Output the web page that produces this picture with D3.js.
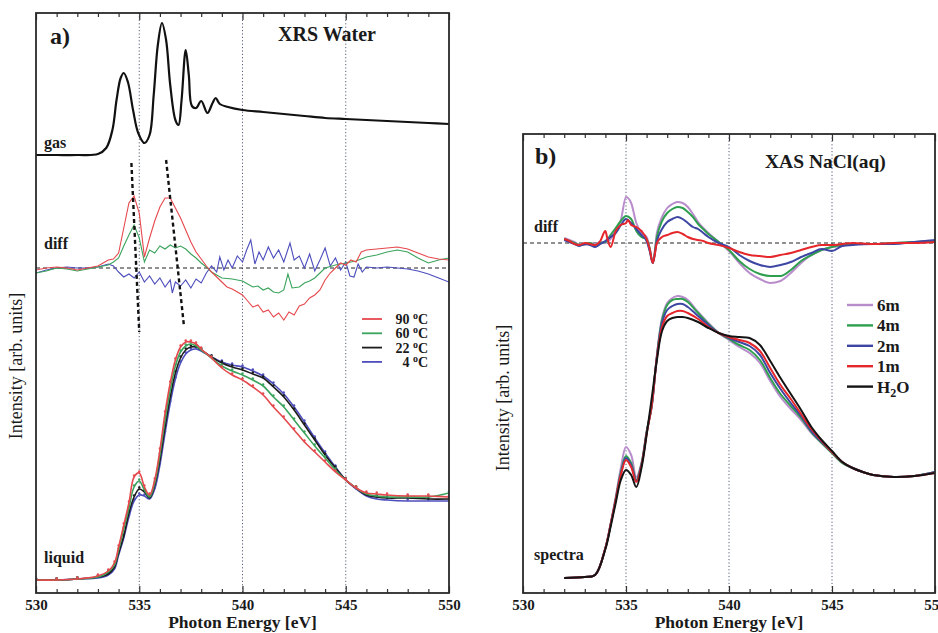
<!DOCTYPE html>
<html>
<head>
<meta charset="utf-8">
<script src="https://cdn.jsdelivr.net/npm/d3@7"></script>
<style>
  body { margin: 0; background: #fff; }
  svg text { font-family: "Liberation Serif", "DejaVu Serif", serif; fill: #1a1a1a; }
</style>
</head>
<body>
<div id="chart"></div>
<script>
// ---- panel a) XRS water : gas spectrum [eV, arb] ----
const gasA = [[530,438],[531,438],[532,438],[533,439],[533.4,445],[533.7,463],[533.9,493],[534.1,515],[534.25,520],
  [534.45,511],[534.7,483],[534.95,460],[535.25,450],[535.5,458],[535.7,498],[535.9,548],[536.1,570],[536.3,553],
  [536.5,508],[536.75,473],[536.9,468],[537.05,493],[537.25,543],[537.4,518],[537.55,487],[537.75,485],[538,492],
  [538.3,480],[538.55,490],[538.7,495],[538.9,489],[539.3,486],[540,483],[541,481],[542,479],[543,477],[544,475],
  [545,474],[546,473],[547,472],[548,471],[549,470],[550,469]];

// diff curves (relative to 22 C)
const diffA90 = [[530,-2],[530.5,0],[531,1],[531.5,0],[532,-2],[532.5,0],[533,2],[533.25,5],[533.5,8],[533.75,9],[534,15],
  [534.25,40],[534.5,65],[534.75,72],[535,55],[535.25,11],[535.5,30],[535.75,47],[536,61],[536.25,70],[536.5,70],
  [536.75,60],[537,50],[537.25,38],[537.5,26],[537.75,16],[538,9],[538.25,2],[538.5,-4],[538.75,-9],[539,-14],
  [539.25,-19],[539.5,-21],[539.75,-24],[540,-27],[540.25,-33],[540.5,-39],[540.75,-37],[541,-44],[541.25,-42],
  [541.5,-49],[541.75,-45],[542,-52],[542.25,-44],[542.5,-47],[542.75,-38],[543,-36],[543.25,-30],[543.5,-27],
  [543.75,-22],[544,-12],[544.25,-5],[544.5,0],[544.75,5],[545,3],[545.25,8],[545.5,6],[545.75,16],[546,18],
  [546.5,19],[547,20],[547.5,21],[548,19],[548.5,15],[549,11],[549.5,9],[550,8]];
const diffA60 = [[530,-5],[530.5,-3],[531,0],[531.5,-1],[532,-3],[532.5,-1],[533,1],[533.5,3],[533.75,6],[534,10],
  [534.25,22],[534.5,33],[534.75,43],[535,30],[535.25,6],[535.5,18],[535.75,15],[536,22],[536.25,19],[536.5,23],
  [536.75,20],[537,22],[537.25,19],[537.5,14],[537.75,10],[538,5],[538.25,1],[538.5,-4],[538.75,-7],[539,-10],
  [539.5,-11],[540,-13],[540.25,-16],[540.5,-19],[540.75,-18],[541,-22],[541.25,-20],[541.5,-24],[541.75,-25],
  [542,-22],[542.2,-6],[542.4,-20],[542.75,-19],[543,-15],[543.25,-13],[543.5,-10],[543.75,-5],[544,0],[544.5,3],
  [545,5],[545.5,7],[546,11],[546.5,13],[547,16],[547.5,18],[548,16],[548.5,10],[549,5],[549.5,8],[550,10]];
const diffA4 = [[530,-5],[530.5,-2],[531,0],[531.5,1],[532,0],[532.5,0],[533,1],[533.5,4],[533.75,2],[534,-4],
  [534.25,-9],[534.5,-6],[534.75,-10],[535,-4],[535.25,-14],[535.5,-8],[535.75,-16],[536,-10],[536.25,-19],
  [536.5,-12],[536.6,-25],[536.75,-14],[537,-18],[537.25,-12],[537.5,-20],[537.75,-11],[538,-15],[538.25,-5],
  [538.5,2],[538.75,-4],[538.9,11],[539.1,-2],[539.3,8],[539.5,0],[539.75,12],[540,6],[540.2,18],[540.4,28],
  [540.6,4],[540.8,16],[541,8],[541.25,21],[541.5,10],[541.75,18],[542,6],[542.3,25],[542.5,8],[542.75,12],
  [543,0],[543.25,14],[543.5,-3],[543.75,8],[544,20],[544.25,2],[544.5,10],[544.75,-2],[545,6],[545.2,-8],
  [545.4,-9],[545.6,4],[545.8,-4],[546,1],[546.5,0],[547,1],[547.5,0],[548,-1],[548.5,-3],[549,-6],[549.5,-10],[550,-14]];

// liquid spectra
const energyA = [530,531,532,533,533.5,533.8,534,534.25,534.5,534.75,535,535.25,535.5,535.75,536,536.25,536.5,536.75,
  537,537.25,537.5,537.75,538,538.5,539,539.5,540,540.5,541,541.5,542,542.5,543,543.5,544,544.5,545,545.5,546,
  546.5,547,548,549,550];
const liqA90 = [13,13,14,17,22,30,46,68,90,116,120,106,98,113,143,180,210,233,246,251,251,249,244,235,225,218,213,
  206,198,186,175,163,151,141,131,121,113,105,100,99,98,97,97,96];
const liqA60 = [13,13,14,16,21,28,43,64,85,106,112,103,96,110,138,173,203,227,241,247,249,247,243,235,227,222,218,
  213,207,196,186,173,160,147,135,123,113,105,99,97,96,96,96,100];
const liqA22 = [13,13,14,16,19,26,40,57,80,96,104,101,95,108,133,166,196,220,235,243,246,246,243,236,230,226,223,
  219,215,206,196,183,168,153,138,125,113,105,98,96,95,95,94,94];
const liqA4 = [13,13,14,15,18,24,38,55,76,92,98,97,94,104,128,160,190,214,230,239,243,244,242,236,231,228,226,222,
  217,209,199,186,171,155,140,126,113,104,97,94,93,92,92,92];

// guide lines through the diff peaks
const guideA = [[[534.62,430],[535.0,261]], [[536.3,433],[537.16,268]]];

const tempLabels = ['90', '60', '22', '4'];
const tempColors = ['#e5484d', '#3aa35c', '#1c1c1c', '#4d4dbd'];

// ---- panel b) XAS NaCl(aq) ----
const diffB6 = [[532,5],[532.25,3],[532.5,1],[532.75,-2],[533,-2],[533.25,0],[533.5,-1],[533.75,1],[534,0],[534.25,4],
  [534.5,13],[534.75,23],[535,46],[535.25,40],[535.5,20],[535.75,10],[536,6],[536.15,-5],[536.3,-20],[536.5,10],
  [536.75,26],[537,35],[537.25,39],[537.5,41],[537.75,40],[538,36],[538.25,29],[538.5,21],[538.75,15],[539,10],
  [539.5,1],[540,-8],[540.5,-20],[541,-30],[541.5,-36],[542,-40],[542.5,-38],[543,-30],[543.5,-20],[544,-12],
  [544.5,-7],[545,-4],[545.5,-3],[546,-1],[547,-1],[548,0],[549,1],[550,2]];
const diffB4 = [[532,4],[532.25,2],[532.5,0],[532.75,-2],[533,-1],[533.25,0],[533.5,-2],[533.75,0],[534,1],[534.25,8],
  [534.5,15],[534.75,22],[535,27],[535.25,24],[535.5,12],[535.75,6],[536,4],[536.15,-6],[536.3,-20],[536.5,6],
  [536.75,22],[537,30],[537.25,34],[537.5,36],[537.75,35],[538,31],[538.25,26],[538.5,19],[538.75,14],[539,9],
  [539.5,1],[540,-7],[540.5,-18],[541,-26],[541.5,-31],[542,-33],[542.5,-33],[543,-27],[543.5,-18],[544,-12],
  [544.5,-7],[545,-4],[545.5,-2],[546,-1],[547,-1],[548,0],[549,1],[550,2]];
const diffB2 = [[532,3],[532.25,1],[532.5,-1],[532.75,-3],[533,-1],[533.25,-2],[533.5,-4],[533.75,-1],[534,2],[534.25,6],
  [534.5,10],[534.75,18],[535,24],[535.25,20],[535.5,14],[535.75,8],[536,2],[536.15,-8],[536.3,-20],[536.5,2],
  [536.75,14],[537,21],[537.25,24],[537.5,26],[537.75,24],[538,20],[538.25,16],[538.5,14],[538.75,10],[539,6],
  [539.5,0],[540,-4],[540.5,-12],[541,-18],[541.5,-22],[542,-24],[542.5,-22],[543,-19],[543.5,-14],[544,-10],
  [544.5,-6],[545,-8],[545.5,-3],[546,-2],[547,-1],[548,-1],[549,1],[550,3]];
const diffB1 = [[532,4],[532.25,2],[532.5,-1],[532.75,-2],[533,0],[533.25,-1],[533.5,-2],[533.75,2],[534,12],[534.1,4],
  [534.25,-4],[534.5,12],[534.75,18],[535,20],[535.1,23],[535.25,18],[535.5,16],[535.75,12],[536,4],[536.15,-6],
  [536.3,-20],[536.5,0],[536.75,6],[537,8],[537.25,10],[537.5,11],[537.75,9],[538,6],[538.25,4],[538.5,3],
  [538.75,2],[539,0],[539.5,-2],[540,-5],[540.5,-9],[541,-12],[541.5,-13],[542,-14],[542.5,-12],[543,-10],
  [543.5,-7],[544,-4],[544.5,-2],[545,-2],[545.5,-1],[546,0],[547,-1],[548,0],[549,0],[550,1]];

const energyB = [532,533,533.5,534,534.25,534.5,534.75,535,535.25,535.5,535.75,536,536.25,536.5,536.75,537,537.25,
  537.5,537.75,538,538.5,539,539.5,540,540.5,541,541.5,542,542.5,543,543.5,544,544.5,545,545.5,546,546.5,547,548,549,550];
const specB6 = [15,16,18,45,69,96,125,146,138,116,130,161,186,238,275,290,295,297,296,293,281,270,260,253,246,240,
  230,212,196,184,173,160,150,140,130,125,121,118,116,117,121];
const specB4 = [15,16,18,45,68,94,121,137,130,113,129,161,187,237,273,288,293,294,294,291,280,269,260,254,248,243,
  233,215,199,187,175,161,150,140,130,125,121,118,116,117,121];
const specB2 = [15,16,18,45,68,93,119,135,128,112,128,160,188,236,270,283,287,289,289,286,277,268,260,255,251,247,
  238,220,204,190,177,162,151,141,131,125,121,118,116,117,121];
const specB1 = [15,16,18,45,68,93,118,133,126,111,127,159,188,235,266,277,280,282,282,280,274,266,260,256,253,250,
  242,225,208,194,179,164,152,141,131,125,121,118,116,117,120];
const specBH2O = [15,16,18,44,66,90,113,123,118,106,125,158,195,233,262,272,275,276,276,275,271,265,260,257,256,255,
  248,232,215,199,183,166,153,142,131,125,121,118,116,117,120];

const concLabels = ['6m', '4m', '2m', '1m', 'H2O'];
const concColors = ['#b98ccb', '#2f9f4f', '#3d47a3', '#e5262b', '#141414'];

const majorTicks = [530, 535, 540, 545, 550];
const minorTicks = d3.range(531, 550).filter(v => v % 5 !== 0);
const gridTicks = [535, 540, 545];

// ---- drawing ----
const svg = d3.select('#chart').append('svg')
    .attr('width', 938)
    .attr('height', 633);

const y = d3.scaleLinear().domain([0, 593]).range([593, 0]);
const DIFF_ZERO_A = 325, DIFF_ZERO_B = 350;

function makePanel(id, left, right, top, bottom) {
    const x = d3.scaleLinear().domain([530, 550]).range([left, right]);
    svg.append('clipPath').attr('id', 'clip-' + id)
        .append('rect').attr('x', left).attr('y', top).attr('width', right - left).attr('height', bottom - top);

    // dotted grid
    svg.append('g').selectAll('line').data(gridTicks).join('line')
        .attr('x1', d => x(d)).attr('x2', d => x(d))
        .attr('y1', top).attr('y2', bottom)
        .attr('stroke', '#55607a').attr('stroke-width', 1).attr('stroke-dasharray', '1.2,2.2');

    const axB = svg.append('g').attr('transform', `translate(0,${bottom})`)
        .call(d3.axisBottom(x).tickValues(majorTicks).tickSize(-7).tickPadding(6).tickFormat(d3.format('d')));
    axB.selectAll('text').attr('font-size', 15).attr('font-weight', 'bold')
        .style('font-family', '"Liberation Serif", serif');
    svg.append('g').attr('transform', `translate(0,${bottom})`)
        .call(d3.axisBottom(x).tickValues(minorTicks).tickSize(-4).tickFormat(''));
    svg.append('g').attr('transform', `translate(0,${top})`)
        .call(d3.axisTop(x).tickValues(majorTicks).tickSize(-7).tickFormat(''));
    svg.append('g').attr('transform', `translate(0,${top})`)
        .call(d3.axisTop(x).tickValues(minorTicks).tickSize(-4).tickFormat(''));
    svg.selectAll('.domain').remove();
    svg.selectAll('.tick line').attr('stroke', '#333').attr('stroke-width', 1.2);

    const g = svg.append('g').attr('clip-path', `url(#clip-${id})`);

    svg.append('rect')
        .attr('x', left).attr('y', top).attr('width', right - left).attr('height', bottom - top)
        .attr('fill', 'none').attr('stroke', '#2a2a2a').attr('stroke-width', 1.8);

    svg.append('text')
        .attr('x', (left + right) / 2).attr('y', 628)
        .attr('text-anchor', 'middle').attr('font-size', 17.5).attr('font-weight', 'bold')
        .text('Photon Energy [eV]');
    return { x, g };
}

function zeroLine(g, x, h) {
    g.append('line')
        .attr('x1', x(530)).attr('x2', x(550))
        .attr('y1', y(h)).attr('y2', y(h))
        .attr('stroke', '#222').attr('stroke-width', 1).attr('stroke-dasharray', '4,3');
}

function lineOf(x, offset, curve) {
    return d3.line().x(d => x(d[0])).y(d => y(d[1] + offset)).curve(curve);
}

function label(text, lx, ly, size) {
    return svg.append('text').attr('x', lx).attr('y', ly)
        .attr('font-size', size).attr('font-weight', 'bold').text(text);
}

function yTitle(cx, cy) {
    svg.append('text')
        .attr('transform', `translate(${cx},${cy}) rotate(-90)`)
        .attr('text-anchor', 'middle').attr('font-size', 18)
        .text('Intensity [arb. units]');
}

// panel a
const A = makePanel('a', 36, 449, 13, 593);
zeroLine(A.g, A.x, DIFF_ZERO_A);

A.g.append('path').datum(gasA)
    .attr('d', lineOf(A.x, 0, d3.curveCatmullRom.alpha(0.5)))
    .attr('fill', 'none').attr('stroke', '#111').attr('stroke-width', 2.2);

[[diffA4, 3], [diffA60, 1], [diffA90, 0]].forEach(([s, ci]) => {
    A.g.append('path').datum(s)
        .attr('d', lineOf(A.x, DIFF_ZERO_A, d3.curveLinear))
        .attr('fill', 'none').attr('stroke', tempColors[ci]).attr('stroke-width', 1.1);
});

const liqSeries = [liqA90, liqA60, liqA22, liqA4];
[3, 2, 1, 0].forEach(ci => {
    const pts = energyA.map((e, i) => [e, liqSeries[ci][i]]);
    A.g.append('path').datum(pts)
        .attr('d', lineOf(A.x, 0, d3.curveCatmullRom.alpha(0.5)))
        .attr('fill', 'none').attr('stroke', tempColors[ci]).attr('stroke-width', 1.6);
    A.g.append('g').selectAll('circle').data(pts).join('circle')
        .attr('cx', d => A.x(d[0])).attr('cy', d => y(d[1]) - 1.5)
        .attr('r', 1.2).attr('fill', tempColors[ci]);
});

guideA.forEach(seg => {
    A.g.append('path').datum(seg)
        .attr('d', lineOf(A.x, 0, d3.curveLinear))
        .attr('fill', 'none').attr('stroke', '#111').attr('stroke-width', 2.4)
        .attr('stroke-dasharray', '4,3');
});

label('a)', 50, 44, 24);
label('XRS Water', 278, 41, 20);
label('gas', 44, 148, 16);
label('diff', 44, 249, 16);
label('liquid', 44, 563, 16);
yTitle(22, 366);

const legA = svg.append('g');
tempLabels.forEach((t, i) => {
    const ly = 319 + i * 14.3;
    legA.append('line').attr('x1', 362).attr('x2', 382).attr('y1', ly).attr('y2', ly)
        .attr('stroke', tempColors[i]).attr('stroke-width', 1.8);
    const txt = legA.append('text').attr('x', 428).attr('y', ly + 5)
        .attr('text-anchor', 'end').attr('font-size', 14).attr('font-weight', 'bold');
    txt.append('tspan').text(t + ' ');
    txt.append('tspan').attr('dy', -5).attr('font-size', 10).text('o');
    txt.append('tspan').attr('dy', 5).text('C');
});

// panel b
const B = makePanel('b', 523, 935, 134, 593);
zeroLine(B.g, B.x, DIFF_ZERO_B);

const diffB = [diffB6, diffB4, diffB2, diffB1];
[0, 1, 2, 3].forEach(ci => {
    B.g.append('path').datum(diffB[ci])
        .attr('d', lineOf(B.x, DIFF_ZERO_B, d3.curveMonotoneX))
        .attr('fill', 'none').attr('stroke', concColors[ci]).attr('stroke-width', 2);
});

const specB = [specB6, specB4, specB2, specB1, specBH2O];
[0, 1, 2, 3, 4].forEach(ci => {
    const pts = energyB.map((e, i) => [e, specB[ci][i]]);
    B.g.append('path').datum(pts)
        .attr('d', lineOf(B.x, 0, d3.curveCatmullRom.alpha(0.5)))
        .attr('fill', 'none').attr('stroke', concColors[ci]).attr('stroke-width', 2);
});

label('b)', 535, 164, 24);
label('XAS NaCl(aq)', 765, 168, 19.5);
label('diff', 534, 232, 16);
label('spectra', 534, 560, 16);
yTitle(509, 398);

const legB = svg.append('g');
concLabels.forEach((t, i) => {
    const ly = 305 + i * 20.4;
    legB.append('line').attr('x1', 847).attr('x2', 873).attr('y1', ly).attr('y2', ly)
        .attr('stroke', concColors[i]).attr('stroke-width', 2.4);
    const txt = legB.append('text').attr('x', 877).attr('y', ly + 6)
        .attr('font-size', 17).attr('font-weight', 'bold');
    if (t === 'H2O') {
        txt.append('tspan').text('H');
        txt.append('tspan').attr('dy', 4).attr('font-size', 12).text('2');
        txt.append('tspan').attr('dy', -4).text('O');
    } else {
        txt.text(t);
    }
});
</script>
</body>
</html>
